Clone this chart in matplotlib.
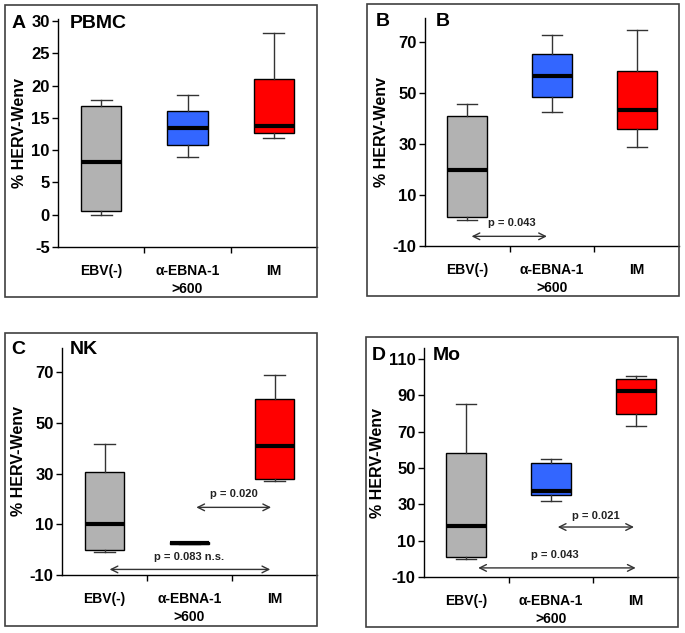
import matplotlib
matplotlib.use("Agg")
import matplotlib.pyplot as plt
from matplotlib.patches import Rectangle

plt.rcParams['font.family'] = ['Liberation Sans', 'DejaVu Sans']

# ---------------- data ----------------
categories = ["EBV(-)", "α-EBNA-1\n>600", "IM"]
box_colors = ["#b2b2b2", "#3366ff", "#ff0000"]

# per panel: [whislo, q1, median, q3, whishi] for each category
pbmc_stats = [[0.0, 0.5, 8.2, 16.9, 17.8],
              [9.0, 10.75, 13.4, 16.1, 18.6],
              [11.8, 12.6, 13.7, 21.0, 28.1]]
b_stats = [[0.1, 1.3, 20.0, 41.0, 45.7],
           [42.6, 48.5, 57.0, 65.3, 72.8],
           [29.0, 35.9, 43.5, 58.9, 74.8]]
nk_stats = [[-1.0, -0.2, 10.2, 30.6, 41.8],
            [2.4, 2.4, 2.8, 3.2, 3.2],
            [27.0, 27.7, 41.0, 59.6, 69.1]]
mo_stats = [[-0.1, 1.2, 17.9, 58.3, 85.4],
            [31.7, 35.0, 37.2, 52.6, 55.1],
            [73.3, 79.5, 92.6, 99.2, 100.5]]

yticks_a = [-5, 0, 5, 10, 15, 20, 25, 30]
yticks_b = [-10, 10, 30, 50, 70]
yticks_c = [-10, 10, 30, 50, 70]
yticks_d = [-10, 10, 30, 50, 70, 90, 110]

# p-value annotations: (text, x_from, x_to, arrow_y, text_x, text_y)
b_pvals = [("p = 0.043", 1.05, 1.94, -6.2, 1.52, -0.9)]
nk_pvals = [("p = 0.020", 2.08, 2.96, 16.7, 2.52, 22.0),
            ("p = 0.083 n.s.", 1.06, 2.95, -7.8, 2.0, -3.0)]
mo_pvals = [("p = 0.021", 2.08, 2.98, 17.5, 2.53, 23.8),
            ("p = 0.043", 1.14, 3.0, -5.0, 2.04, 1.9)]

W, H = 685, 633
fig = plt.figure(figsize=(W / 100, H / 100), dpi=100)


def fx(px):
    return px / W


def fy(py):
    return 1 - py / H


panels = [
    dict(stats=pbmc_stats, yticks=yticks_a, ylim=(-5, 30.3),
         ax=(58, 317, 19, 247), frame=(5, 5, 317, 297),
         letter=("A", 12, 23), title=("PBMC", 70, 23), pvals=[]),
    dict(stats=b_stats, yticks=yticks_b, ylim=(-10, 79.6),
         ax=(425, 679, 18, 246), frame=(367, 4, 679, 296),
         letter=("B", 376, 22), title=("B", 436, 22), pvals=b_pvals),
    dict(stats=nk_stats, yticks=yticks_c, ylim=(-10, 79.6),
         ax=(62, 317, 348, 575), frame=(5, 333, 317, 626),
         letter=("C", 11, 350), title=("NK", 70, 350), pvals=nk_pvals),
    dict(stats=mo_stats, yticks=yticks_d, ylim=(-10, 116),
         ax=(424, 678, 348, 577), frame=(366, 337, 678, 627),
         letter=("D", 372, 355), title=("Mo", 433, 355), pvals=mo_pvals),
]

for p in panels:
    x0, x1, y0, y1 = p["ax"]
    ax = fig.add_axes([fx(x0), fy(y1), fx(x1 - x0), (y1 - y0) / H])
    stats = []
    for lbl, s in zip(categories, p["stats"]):
        stats.append(dict(label=lbl, whislo=s[0], q1=s[1], med=s[2],
                          q3=s[3], whishi=s[4], fliers=[]))
    bp = ax.bxp(stats, positions=[1, 2, 3], widths=0.47, patch_artist=True,
                showfliers=False,
                boxprops=dict(edgecolor="black", linewidth=1.0),
                medianprops=dict(color="black", linewidth=3.0),
                whiskerprops=dict(color="#333333", linewidth=1.0),
                capprops=dict(color="#333333", linewidth=1.0),
                capwidths=0.24)
    for patch, c in zip(bp["boxes"], box_colors):
        patch.set_facecolor(c)
    ax.set_xlim(0.5, 3.5)
    ax.set_ylim(*p["ylim"])
    ax.set_yticks(p["yticks"])
    ax.set_yticklabels([str(t) for t in p["yticks"]], fontsize=12, fontweight="bold")
    ax.set_xticks([1, 2, 3])
    ax.set_xticklabels(categories, fontsize=10, fontweight="bold", linespacing=1.35)
    ax.set_xticks([1.5, 2.5], minor=True)
    ax.tick_params(axis="x", which="major", length=0, pad=12)
    ax.tick_params(axis="x", which="minor", length=4, direction="out", width=1)
    ax.tick_params(axis="y", length=4, direction="out", width=1, pad=2)
    ax.spines["top"].set_visible(False)
    ax.spines["right"].set_visible(False)
    ax.spines["left"].set_linewidth(1.0)
    ax.spines["bottom"].set_linewidth(1.0)
    ax.set_ylabel("% HERV-Wenv", fontsize=11.5, fontweight="bold", labelpad=3)
    ax.patch.set_alpha(0)

    for txt, xa, xb, ya, tx, ty in p["pvals"]:
        ax.annotate("", xy=(xa, ya), xytext=(xb, ya),
                    arrowprops=dict(arrowstyle="<->", color="#333333",
                                    lw=1.0, mutation_scale=12,
                                    shrinkA=0, shrinkB=0))
        ax.text(tx, ty, txt, ha="center", va="center", fontsize=8,
                fontweight="bold", color="#222222")

    fx0, fy0, fx1, fy1 = p["frame"]
    fig.patches.append(Rectangle((fx(fx0), fy(fy1)), fx(fx1 - fx0), (fy1 - fy0) / H,
                                 transform=fig.transFigure, fill=False,
                                 edgecolor="#404040", linewidth=1.2))
    l, lx, ly = p["letter"]
    fig.text(fx(lx), fy(ly), l, fontsize=14, fontweight="bold", ha="left", va="center")
    t, tx_, ty_ = p["title"]
    fig.text(fx(tx_), fy(ty_), t, fontsize=14, fontweight="bold", ha="left", va="center")

fig.savefig("out.png", dpi=100)
